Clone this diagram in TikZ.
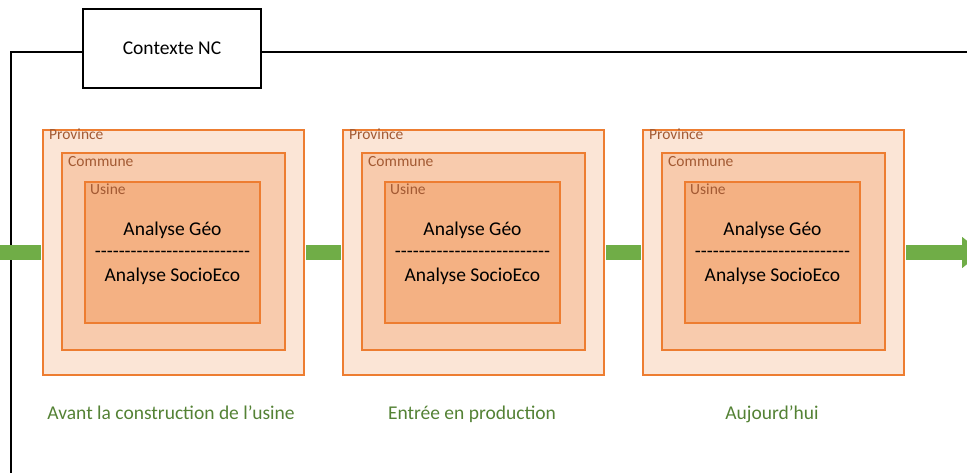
\documentclass[tikz,border=0pt]{standalone}
\usepackage{fontspec}
\setmainfont{Carlito}
\usetikzlibrary{positioning, arrows.meta}
\definecolor{provfill}{HTML}{FBE5D6}
\definecolor{commfill}{HTML}{F8CBAD}
\definecolor{usinefill}{HTML}{F4B183}
\definecolor{edgeorange}{HTML}{ED7D31}
\definecolor{tagbrown}{HTML}{A35A33}
\definecolor{flowgreen}{HTML}{70AD47}
\definecolor{textgreen}{HTML}{548235}
\tikzset{>=latex}
\tikzset{
    context/.style = {rectangle, draw, line width=2pt, fill=white, minimum width=178pt,
                        minimum height=79pt, font=\fontsize{19.5}{23}\selectfont},
    province/.style = {rectangle, draw=edgeorange, line width=2pt, fill=provfill,
                        minimum width=261pt, minimum height=245pt},
    commune/.style = {rectangle, draw=edgeorange, line width=2pt, fill=commfill,
                        minimum width=223pt, minimum height=197pt},
    usine/.style = {rectangle, draw=edgeorange, line width=2pt, fill=usinefill,
                        minimum width=175pt, minimum height=141pt},
    tag/.style = {anchor=base west, inner sep=0pt, text=tagbrown, font=\fontsize{15.5}{18}\selectfont},
    analysis/.style = {anchor=base, inner sep=0pt, font=\fontsize{19.5}{23}\selectfont},
    period/.style = {anchor=base, inner sep=0pt, text=textgreen, font=\fontsize{19.5}{23}\selectfont},
    flow/.style = {draw=flowgreen, line width=15pt},
    frame/.style = {draw, line width=2pt}
}
\newcommand{\dashrow}{\foreach \k in {1,...,26}{-\kern0pt}}

\begin{document}
\begin{tikzpicture}[x=1pt, y=-1pt]
			\useasboundingbox (0,0) rectangle (967,473);
			% context box and frame
			\node (ctx) [context] at (172,48.5) {Contexte NC};
			\coordinate (frametop) at (11,52);
			\coordinate (framebottom) at (11,480);
			\coordinate (frameright) at (980,52);
			\draw [frame] (framebottom) -- (frametop) -- (frametop -| ctx.west);
			\draw [frame] (frametop -| ctx.east) -- (frameright);
			% first period
			\node (prov1) [province] at (173.5,252.5) {};
			\node (provtag1) [tag] at ([shift={(7,11)}]prov1.north west) {Province};
			\node (comm1) [commune] at (173.5,251.5) {};
			\node (commtag1) [tag] at ([shift={(7,15)}]comm1.north west) {Commune};
			\node (usine1) [usine] at (172.5,252.5) {};
			\node (usinetag1) [tag] at ([shift={(6,13.5)}]usine1.north west) {Usine};
			\node (geo1) [analysis] at (172.5,235.5) {Analyse Géo};
			\node (sep1) [analysis] at (172.5,258) {\dashrow};
			\node (socio1) [analysis] at (172.5,282) {Analyse SocioEco};
			\node (period1) [period] at (171,419) {Avant la construction de l’usine};
			% second period
			\node (prov2) [province] at (473.5,252.5) {};
			\node (provtag2) [tag] at ([shift={(7,11)}]prov2.north west) {Province};
			\node (comm2) [commune] at (473.5,251.5) {};
			\node (commtag2) [tag] at ([shift={(7,15)}]comm2.north west) {Commune};
			\node (usine2) [usine] at (472.5,252.5) {};
			\node (usinetag2) [tag] at ([shift={(6,13.5)}]usine2.north west) {Usine};
			\node (geo2) [analysis] at (472.5,235.5) {Analyse Géo};
			\node (sep2) [analysis] at (472.5,258) {\dashrow};
			\node (socio2) [analysis] at (472.5,282) {Analyse SocioEco};
			\node (period2) [period] at (472,419) {Entrée en production};
			% third period
			\node (prov3) [province] at (773.5,252.5) {};
			\node (provtag3) [tag] at ([shift={(7,11)}]prov3.north west) {Province};
			\node (comm3) [commune] at (773.5,251.5) {};
			\node (commtag3) [tag] at ([shift={(7,15)}]comm3.north west) {Commune};
			\node (usine3) [usine] at (772.5,252.5) {};
			\node (usinetag3) [tag] at ([shift={(6,13.5)}]usine3.north west) {Usine};
			\node (geo3) [analysis] at (772.5,235.5) {Analyse Géo};
			\node (sep3) [analysis] at (772.5,258) {\dashrow};
			\node (socio3) [analysis] at (772.5,282) {Analyse SocioEco};
			\node (period3) [period] at (772,419) {Aujourd’hui};
			% time flow
			\coordinate (flowin) at (-2,252.5);
			\coordinate (flowout) at (982,252.5);
			\draw [flow, shorten >=1pt] (flowin) -- (prov1.west);
			\draw [flow, shorten <=1pt, shorten >=1pt] (prov1.east) -- (prov2.west);
			\draw [flow, shorten <=1pt, shorten >=1pt] (prov2.east) -- (prov3.west);
			\draw [flow, shorten <=1pt, -{Triangle[length=20pt,width=30pt]}] (prov3.east) -- (flowout);
		\end{tikzpicture}
\end{document}
